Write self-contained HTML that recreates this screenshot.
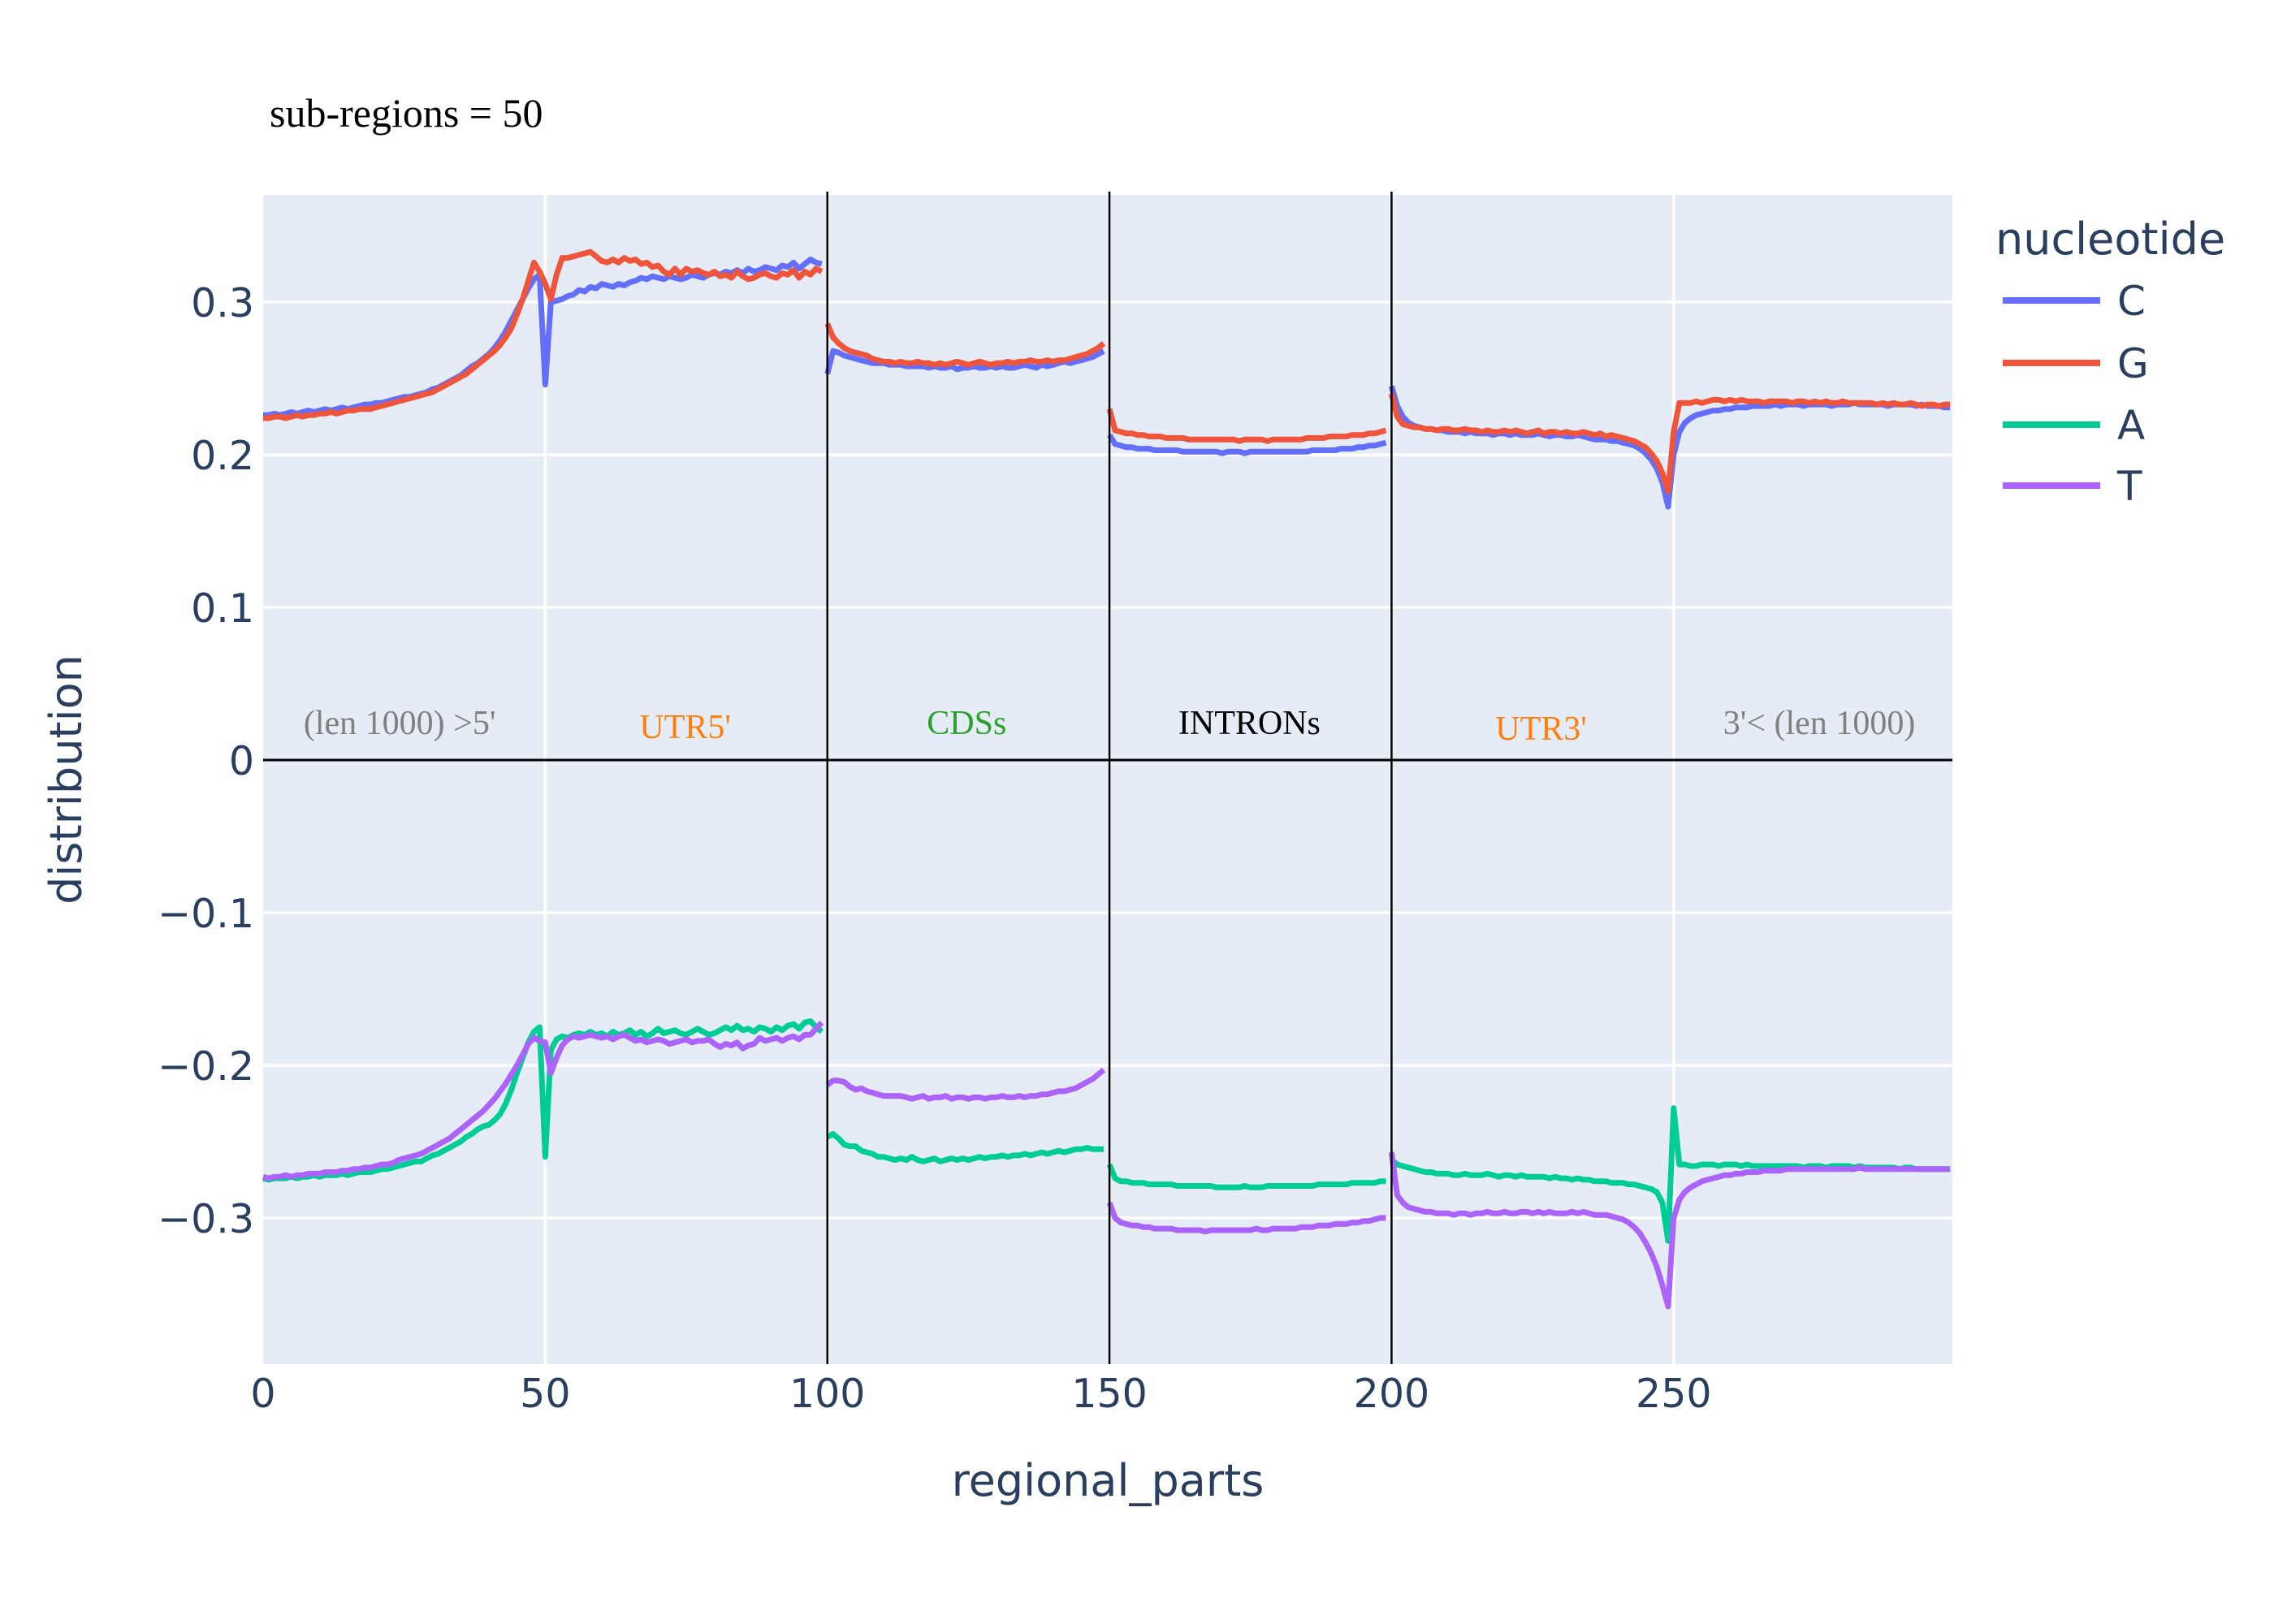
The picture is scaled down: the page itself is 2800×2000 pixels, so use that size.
<!DOCTYPE html>
<html><head><meta charset="utf-8">
<style>
html,body{margin:0;padding:0;background:#fff;}
svg{display:block;}
</style></head>
<body>
<svg id="chart" xmlns="http://www.w3.org/2000/svg" width="2800" height="2000" viewBox="0 0 2800 2000">
  <rect x="0" y="0" width="2800" height="2000" fill="#ffffff"/>
  <text x="332" y="156" font-family="'Liberation Serif', serif" font-size="50" fill="#000">sub-regions = 50</text>
  <rect x="324" y="240" width="2080" height="1440" fill="#e5ecf6"/>
  <g id="grid"></g>
  <g id="traces"></g>
  <g id="shapes"></g>
  <g id="annots"></g>
  <g id="ticks"></g>
  <text x="1364" y="1842" text-anchor="middle" font-family="'DejaVu Sans', 'Liberation Sans', sans-serif" font-size="54" fill="#2a3f5f">regional_parts</text>
  <text transform="translate(100,960) rotate(-90)" text-anchor="middle" font-family="'DejaVu Sans', 'Liberation Sans', sans-serif" font-size="54" fill="#2a3f5f">distribution</text>
  <g id="legend">
    <text x="2457" y="313" font-family="'DejaVu Sans', 'Liberation Sans', sans-serif" font-size="54" fill="#2a3f5f">nucleotide</text>
  </g>
</svg>
<script>
const xTicks = [0, 50, 100, 150, 200, 250];
const yTicks = [-0.3, -0.2, -0.1, 0, 0.1, 0.2, 0.3];
const yTickLabels = ["\u22120.3", "\u22120.2", "\u22120.1", "0", "0.1", "0.2", "0.3"];
const seriesNames = ["C", "G", "A", "T"];
const regionLabels = ["(len 1000) >5'", "UTR5'", "CDSs", "INTRONs", "UTR3'", "3'< (len 1000)"];
const regionLabelX = [24.2, 74.8, 124.7, 174.8, 226.5, 275.8];
const dividerX = [100, 150, 200];
const segmentStarts = [0, 100, 150, 200, 300];

const valuesC = [
.226,.226,.227,.226,.227,.228,.227,.228,.229,.228,
.229,.230,.229,.230,.231,.230,.231,.232,.233,.233,
.234,.234,.235,.236,.237,.238,.238,.239,.240,.241,
.243,.244,.246,.248,.250,.252,.255,.258,.260,.263,
.266,.270,.275,.281,.288,.295,.302,.309,.315,.318,
.246,.300,.301,.302,.304,.305,.308,.307,.310,.309,
.312,.311,.310,.312,.311,.313,.314,.316,.315,.317,
.316,.315,.317,.316,.315,.316,.318,.317,.316,.318,
.319,.318,.320,.319,.321,.319,.322,.320,.321,.323,
.322,.321,.324,.323,.326,.322,.325,.328,.326,.325,
.253,.268,.267,.265,.264,.263,.262,.261,.260,.260,
.260,.259,.259,.259,.258,.258,.258,.258,.257,.258,
.257,.257,.258,.256,.257,.257,.258,.257,.257,.258,
.257,.258,.257,.257,.258,.259,.258,.257,.259,.258,
.259,.260,.261,.260,.261,.262,.263,.264,.266,.268,
.213,.207,.206,.205,.205,.204,.204,.204,.203,.203,
.203,.203,.203,.202,.202,.202,.202,.202,.202,.202,
.201,.202,.202,.202,.201,.202,.202,.202,.202,.202,
.202,.202,.202,.202,.202,.202,.203,.203,.203,.203,
.203,.204,.204,.204,.205,.205,.206,.206,.207,.208,
.245,.232,.225,.221,.219,.218,.217,.217,.216,.216,
.215,.215,.215,.214,.215,.214,.214,.214,.213,.214,
.214,.213,.214,.213,.213,.213,.214,.213,.212,.213,
.213,.212,.212,.213,.212,.211,.210,.210,.210,.209,
.209,.208,.207,.206,.204,.201,.197,.191,.182,.166,
.200,.215,.221,.224,.226,.227,.228,.229,.229,.230,
.230,.231,.231,.231,.232,.232,.232,.232,.233,.232,
.233,.233,.233,.232,.233,.233,.233,.233,.232,.233,
.233,.233,.234,.233,.233,.233,.233,.233,.232,.233,
.233,.233,.233,.232,.233,.232,.232,.232,.231,.231];

const valuesG = [
.224,.224,.225,.225,.224,.225,.226,.225,.226,.226,
.227,.227,.228,.227,.228,.229,.229,.230,.230,.230,
.231,.232,.233,.234,.235,.236,.237,.238,.239,.240,
.241,.243,.245,.247,.249,.251,.253,.256,.259,.262,
.265,.268,.272,.277,.283,.292,.302,.314,.326,.320,
.312,.302,.318,.329,.329,.330,.331,.332,.333,.330,
.327,.326,.328,.326,.329,.327,.328,.325,.326,.323,
.324,.320,.318,.322,.318,.322,.320,.321,.319,.318,
.320,.317,.318,.316,.320,.317,.315,.316,.318,.319,
.317,.316,.319,.318,.321,.316,.320,.318,.322,.320,
.286,.277,.273,.270,.268,.267,.266,.265,.263,.262,
.261,.261,.260,.261,.260,.260,.261,.260,.260,.259,
.260,.259,.260,.261,.260,.259,.260,.261,.260,.259,
.260,.260,.261,.260,.261,.261,.262,.261,.261,.262,
.261,.262,.262,.263,.264,.265,.266,.268,.270,.273,
.230,.216,.215,.214,.214,.213,.213,.212,.212,.212,
.211,.211,.211,.211,.210,.210,.210,.210,.210,.210,
.210,.210,.210,.209,.210,.210,.210,.210,.209,.210,
.210,.210,.210,.210,.210,.211,.211,.211,.211,.212,
.212,.212,.212,.213,.213,.213,.214,.214,.215,.216,
.240,.225,.220,.219,.218,.218,.217,.217,.216,.217,
.217,.216,.216,.217,.216,.216,.215,.216,.215,.215,
.216,.215,.216,.215,.214,.215,.216,.214,.215,.215,
.214,.215,.214,.214,.215,.214,.213,.214,.212,.213,
.212,.211,.210,.209,.207,.205,.201,.196,.188,.176,
.215,.234,.234,.234,.235,.234,.235,.236,.236,.235,
.236,.235,.236,.235,.235,.235,.234,.235,.235,.235,
.235,.234,.235,.235,.234,.235,.234,.235,.234,.234,
.235,.234,.234,.234,.234,.234,.233,.234,.233,.234,
.233,.233,.234,.233,.232,.233,.233,.232,.233,.233];

const valuesA = [
-.274,-.275,-.274,-.274,-.274,-.273,-.274,-.273,-.273,-.272,
-.273,-.272,-.272,-.272,-.271,-.272,-.271,-.270,-.270,-.270,
-.269,-.268,-.268,-.267,-.266,-.265,-.264,-.263,-.263,-.261,
-.259,-.258,-.256,-.254,-.252,-.250,-.247,-.245,-.242,-.240,
-.239,-.236,-.232,-.225,-.216,-.205,-.195,-.185,-.178,-.175,
-.260,-.190,-.183,-.181,-.182,-.180,-.179,-.180,-.178,-.180,
-.179,-.181,-.178,-.180,-.179,-.177,-.180,-.178,-.181,-.179,
-.176,-.179,-.178,-.177,-.179,-.180,-.178,-.176,-.178,-.180,
-.179,-.177,-.175,-.177,-.174,-.177,-.176,-.178,-.175,-.176,
-.178,-.175,-.177,-.174,-.173,-.176,-.172,-.171,-.175,-.178,
-.247,-.245,-.248,-.252,-.253,-.253,-.256,-.257,-.258,-.260,
-.260,-.261,-.262,-.261,-.262,-.260,-.262,-.263,-.262,-.261,
-.263,-.262,-.261,-.262,-.261,-.262,-.261,-.260,-.261,-.260,
-.260,-.259,-.260,-.259,-.259,-.258,-.259,-.258,-.257,-.258,
-.257,-.256,-.257,-.256,-.255,-.255,-.254,-.255,-.255,-.255,
-.265,-.274,-.276,-.276,-.277,-.277,-.277,-.278,-.278,-.278,
-.278,-.278,-.279,-.279,-.279,-.279,-.279,-.279,-.279,-.280,
-.280,-.280,-.280,-.280,-.279,-.280,-.280,-.280,-.279,-.279,
-.279,-.279,-.279,-.279,-.279,-.279,-.279,-.278,-.278,-.278,
-.278,-.278,-.278,-.277,-.277,-.277,-.277,-.277,-.276,-.276,
-.262,-.265,-.266,-.267,-.268,-.269,-.270,-.270,-.271,-.271,
-.271,-.272,-.272,-.271,-.272,-.272,-.272,-.271,-.272,-.273,
-.272,-.272,-.273,-.272,-.273,-.273,-.273,-.273,-.274,-.273,
-.274,-.274,-.275,-.274,-.275,-.275,-.276,-.276,-.276,-.277,
-.277,-.277,-.278,-.278,-.279,-.280,-.281,-.283,-.290,-.315,
-.228,-.265,-.265,-.266,-.266,-.265,-.265,-.265,-.266,-.265,
-.265,-.265,-.266,-.265,-.266,-.266,-.266,-.266,-.266,-.266,
-.266,-.266,-.266,-.267,-.266,-.266,-.266,-.267,-.266,-.266,
-.266,-.266,-.267,-.266,-.267,-.267,-.267,-.267,-.267,-.267,
-.268,-.267,-.267,-.268,-.268,-.268,-.268,-.268,-.268,-.268];

const valuesT = [
-.273,-.274,-.273,-.273,-.272,-.273,-.272,-.272,-.271,-.271,
-.271,-.270,-.270,-.270,-.269,-.269,-.268,-.268,-.267,-.267,
-.266,-.265,-.265,-.264,-.262,-.261,-.260,-.259,-.258,-.256,
-.254,-.252,-.250,-.248,-.245,-.242,-.239,-.236,-.233,-.230,
-.226,-.222,-.217,-.212,-.206,-.200,-.193,-.186,-.182,-.184,
-.185,-.205,-.195,-.187,-.183,-.181,-.182,-.181,-.180,-.181,
-.182,-.181,-.183,-.181,-.180,-.182,-.184,-.183,-.185,-.184,
-.183,-.184,-.186,-.185,-.184,-.183,-.185,-.184,-.184,-.183,
-.186,-.188,-.186,-.187,-.185,-.189,-.187,-.186,-.182,-.184,
-.183,-.182,-.184,-.182,-.181,-.183,-.180,-.180,-.176,-.172,
-.213,-.210,-.210,-.211,-.214,-.216,-.215,-.217,-.218,-.219,
-.220,-.220,-.220,-.220,-.221,-.222,-.221,-.220,-.222,-.221,
-.221,-.220,-.222,-.221,-.221,-.222,-.221,-.221,-.222,-.221,
-.221,-.220,-.221,-.221,-.220,-.221,-.220,-.220,-.219,-.219,
-.218,-.217,-.217,-.216,-.215,-.213,-.211,-.209,-.206,-.203,
-.290,-.300,-.303,-.304,-.305,-.305,-.306,-.306,-.307,-.307,
-.307,-.307,-.308,-.308,-.308,-.308,-.308,-.309,-.308,-.308,
-.308,-.308,-.308,-.308,-.308,-.308,-.307,-.308,-.308,-.307,
-.307,-.307,-.307,-.307,-.306,-.306,-.306,-.305,-.305,-.305,
-.304,-.304,-.304,-.303,-.303,-.302,-.302,-.301,-.300,-.300,
-.257,-.285,-.290,-.293,-.294,-.295,-.296,-.296,-.297,-.297,
-.297,-.298,-.297,-.297,-.298,-.297,-.297,-.296,-.297,-.297,
-.296,-.297,-.297,-.296,-.296,-.297,-.296,-.297,-.296,-.297,
-.297,-.297,-.296,-.297,-.296,-.297,-.298,-.298,-.298,-.299,
-.300,-.301,-.303,-.306,-.310,-.316,-.323,-.332,-.344,-.358,
-.300,-.288,-.283,-.280,-.278,-.276,-.275,-.274,-.273,-.272,
-.272,-.271,-.271,-.270,-.270,-.270,-.269,-.269,-.269,-.269,
-.268,-.268,-.268,-.268,-.268,-.268,-.268,-.268,-.268,-.268,
-.268,-.268,-.268,-.267,-.268,-.268,-.268,-.268,-.268,-.268,
-.268,-.268,-.268,-.268,-.268,-.268,-.268,-.268,-.268,-.268];

const NS = "http://www.w3.org/2000/svg";
const PL = 324, PR = 2404, PT = 240, PB = 1680;
const X_MIN = 0, X_MAX = 299.4;
const Y_MIN = -0.3958, Y_MAX = 0.3703;
function xs(v){ return PL + (v - X_MIN) / (X_MAX - X_MIN) * (PR - PL); }
function ys(v){ return PB - (v - Y_MIN) / (Y_MAX - Y_MIN) * (PB - PT); }
function mk(tag, attrs, parent){
  const e = document.createElementNS(NS, tag);
  for (const k in attrs) e.setAttribute(k, attrs[k]);
  parent.appendChild(e);
  return e;
}
const FONT = "'DejaVu Sans', 'Liberation Sans', sans-serif";
const grid = document.getElementById('grid');
const ticks = document.getElementById('ticks');

xTicks.forEach((t) => {
  if (t > 0) {
    const l = mk('line', {x1: xs(t), x2: xs(t), y1: PT, y2: PB, stroke: '#ffffff', 'stroke-width': 3.5}, grid);
    
    
  }
  const tx = mk('text', {x: xs(t), y: 1733, 'text-anchor': 'middle', 'font-family': FONT, 'font-size': 49, fill: '#2a3f5f'}, ticks);
  tx.textContent = String(t);
  
  
});
yTicks.forEach((t, i) => {
  if (t !== 0) {
    const l = mk('line', {x1: PL, x2: PR, y1: ys(t), y2: ys(t), stroke: '#ffffff', 'stroke-width': 3.5}, grid);
    
    
  }
  const tx = mk('text', {x: 313, y: ys(t) + 18, 'text-anchor': 'end', 'font-family': FONT, 'font-size': 49, fill: '#2a3f5f'}, ticks);
  tx.textContent = yTickLabels[i];
  
  
});

const colors = ['#636efa', '#ef553b', '#00cc96', '#ab63fa'];
const allSeries = [valuesC, valuesG, valuesA, valuesT];
const traces = document.getElementById('traces');
allSeries.forEach((vals, si) => {
  for (let s = 0; s < segmentStarts.length - 1; s++) {
    const a = segmentStarts[s], b = segmentStarts[s + 1];
    const pts = [];
    for (let i = a; i < b && i < vals.length; i++) pts.push(xs(i).toFixed(1) + ',' + ys(vals[i]).toFixed(1));
    const pl = mk('polyline', {points: pts.join(' '), fill: 'none', stroke: colors[si], 'stroke-width': 7, 'stroke-linejoin': 'round'}, traces);
    
    
  }
});

const shapes = document.getElementById('shapes');
dividerX.forEach((d) => {
  const l = mk('line', {x1: xs(d), x2: xs(d), y1: 236, y2: PB, stroke: '#000', 'stroke-width': 2.5}, shapes);
  
  
});
const zl = mk('line', {x1: PL, x2: PR, y1: ys(0), y2: ys(0), stroke: '#000', 'stroke-width': 3}, shapes);



const annColors = ['#808080', '#ff7f0e', '#2ca02c', '#000000', '#ff7f0e', '#808080'];
const annDy = [0, 5, 0, 0, 7, 0];
const annots = document.getElementById('annots');
regionLabels.forEach((lab, i) => {
  const t = mk('text', {x: xs(regionLabelX[i]), y: 904 + annDy[i], 'text-anchor': 'middle', 'font-family': "'Liberation Serif', serif", 'font-size': 42, fill: annColors[i]}, annots);
  t.textContent = lab;
  
  
});

const legend = document.getElementById('legend');
const legY = [370, 447, 523, 598];
seriesNames.forEach((n, i) => {
  const g = mk('g', {}, legend);
  
  
  const l = mk('line', {x1: 2466, x2: 2586, y1: legY[i], y2: legY[i], stroke: colors[i], 'stroke-width': 8}, g);
  
  
  const t = mk('text', {x: 2607, y: legY[i] + 18, 'font-family': FONT, 'font-size': 50, fill: '#2a3f5f'}, g);
  t.textContent = n;
  
  
});
</script>
</body></html>
